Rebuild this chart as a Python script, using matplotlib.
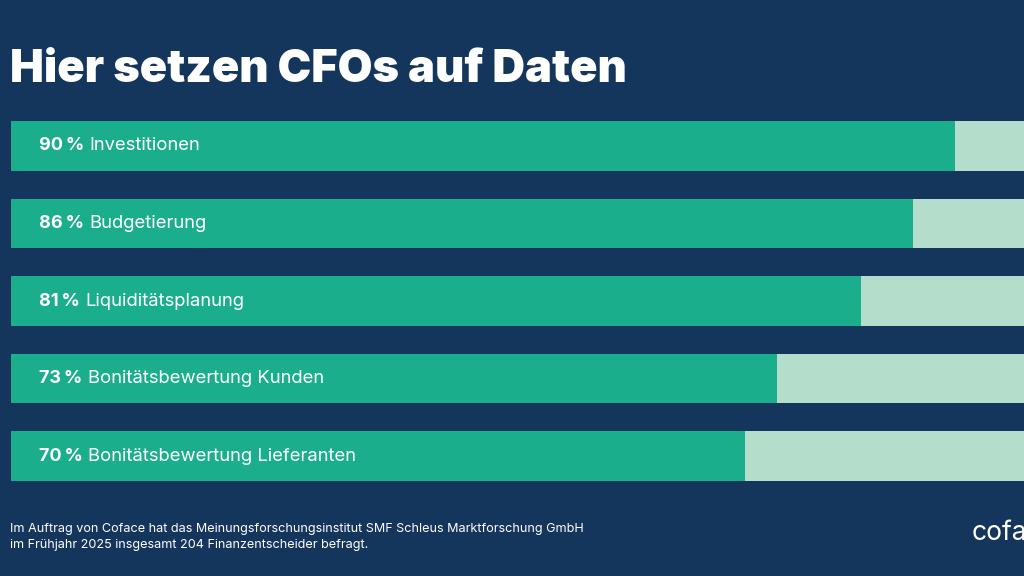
import matplotlib.pyplot as plt

# ==============================
# DATOS
# ==============================
percents = [90, 86, 81, 73, 70]
categories = ["Investitionen", "Budgetierung", "Liquiditätsplanung",
              "Bonitätsbewertung Kunden", "Bonitätsbewertung Lieferanten"]
title = "Hier setzen CFOs auf Daten"
footer = ("Im Auftrag von Coface hat das Meinungsforschungsinstitut SMF Schleus Marktforschung GmbH\n"
          "im Frühjahr 2025 insgesamt 204 Finanzentscheider befragt.")

# ==============================
# ESTILO
# ==============================
bg = "#15365c"
green = "#1bae8d"
light = "#b5ddcb"
plt.rcParams["font.family"] = ["Inter", "DejaVu Sans"]

fig = plt.figure(figsize=(10.24, 5.76), dpi=100, facecolor=bg)
ax = fig.add_axes([11 / 1024, 1 - 481 / 576, 1 - 11 / 1024, 360 / 576])
ax.set_facecolor(bg)

ypos = list(range(len(percents)))
h = 0.645
ax.barh(ypos, [100] * len(percents), height=h, color=light, linewidth=0)
ax.barh(ypos, percents, height=h, color=green, linewidth=0)

# 100 % cae fuera del borde derecho (como en el original)
ax.set_xlim(0, 1013 / 10.49)
ax.set_ylim(len(percents) - 1 + h / 2, -h / 2)
ax.axis("off")

for y, p, c in zip(ypos, percents, categories):
    t = ax.text(2.67, y, f"{p}\u2009%", color="white", fontsize=13, fontweight="bold",
                va="center", ha="left")
    ax.annotate(c, xy=(1, 0.5), xycoords=t, xytext=(4, 0), textcoords="offset points",
                color="white", fontsize=13.3, va="center", ha="left")

fig.text(10 / 1024, 1 - 70 / 576, title, color="white", fontsize=32.5, fontweight="black",
         va="center", ha="left")
fig.text(10 / 1024, 1 - 537 / 576, footer, color="white", fontsize=9.1, va="center",
         ha="left", linespacing=1.5)
fig.text(972 / 1024, 1 - 533 / 576, "coface", color="white", fontsize=19, va="center",
         ha="left")

fig.savefig("out.png", dpi=100, facecolor=bg)
